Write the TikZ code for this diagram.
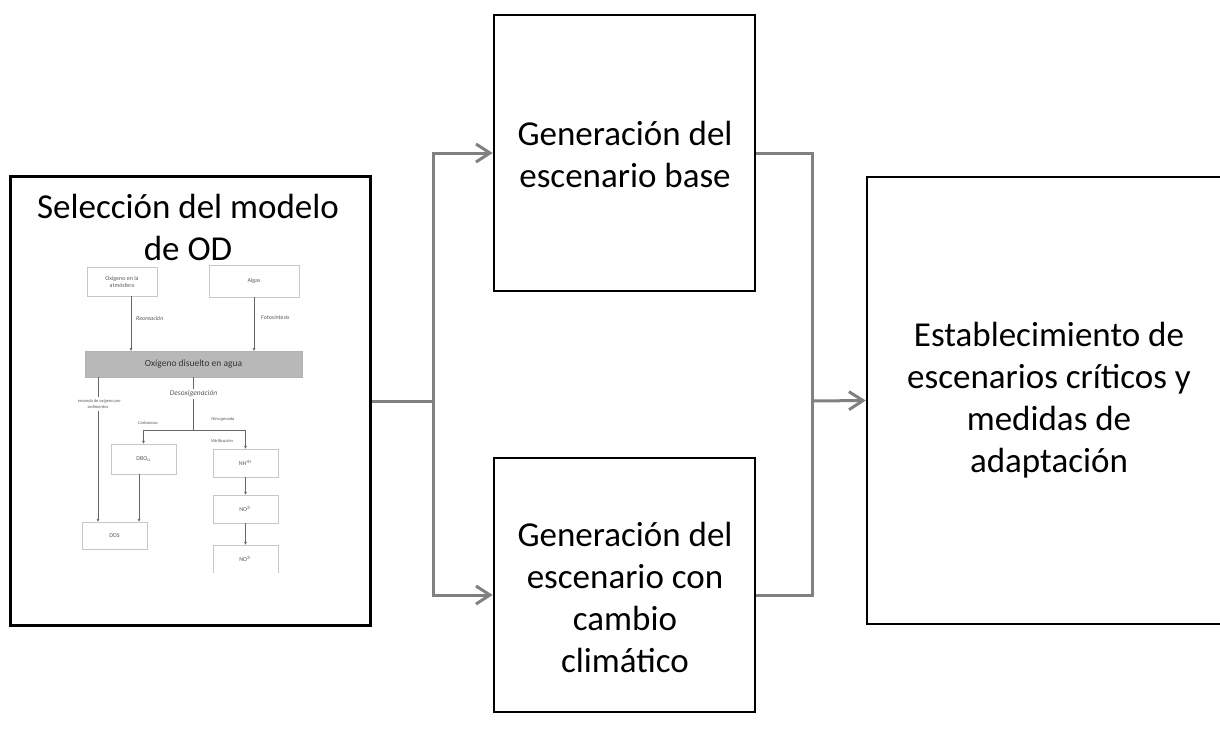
\documentclass[tikz,border=0pt]{standalone}
\usepackage{fontspec}
\setmainfont{Carlito}
\usetikzlibrary{arrows.meta}
\begin{document}
\begin{tikzpicture}
  [x=1pt,y=-1pt,every node/.style={inner sep=0pt}]
  \tikzstyle{bigbox} = [draw=black,line width=2.5pt]
  \tikzstyle{bigtext} = [align=center,font=\fontsize{35}{42}\selectfont]
  \tikzstyle{conn} = [draw=black!50,line width=3pt]
  \tikzstyle{tip} = [-{Straight Barb[length=14pt,width=18pt]}]
  \tikzstyle{smallbox} = [draw=black!22,line width=0.8pt,align=center,text=black!65,font=\fontsize{6}{7}\selectfont]
  \tikzstyle{tag} = [align=center,inner sep=2pt,text=black!65,font=\fontsize{4.5}{5.5}\selectfont\itshape]
  \tikzstyle{inline} = [draw=black!60,line width=0.8pt]
  \tikzstyle{inarr} = [inline,-{Stealth[length=3pt,width=3pt]}]
  \useasboundingbox (0,0) rectangle (1220,728);

  \node[bigbox,minimum width=360pt,minimum height=449pt] (sel) at (190.5,401) {};
  \node[bigbox,minimum width=261pt,minimum height=276pt] (base) at (624.5,153) {};
  \node[bigbox,minimum width=261pt,minimum height=254pt] (cc) at (624.5,585) {};
  \node[bigbox,minimum width=365pt,minimum height=447pt] (est) at (1049.5,400.5) {};

  \node[bigtext] (selt) at (188,227) {Selección del modelo\\de OD};
  \node[bigtext] (baset) at (625,154) {Generación del\\escenario base};
  \node[bigtext] (cct) at (625,597) {Generación del\\escenario con\\cambio\\climático};
  \node[bigtext] (estt) at (1049,400) {Establecimiento de\\escenarios críticos y\\medidas de\\adaptación};

  \coordinate (split) at (433,401);
  \coordinate (merge) at (812,401);
  \draw[conn] (sel.east) -- (split);
  \draw[conn,tip] (split) |- (base.west);
  \draw[conn,tip] (split) |- ([yshift=-10pt]cc.west);
  \draw[conn] (base.east) -| (merge);
  \draw[conn] ([yshift=-10pt]cc.east) -| (merge);
  \draw[conn,tip] (merge) -- (est.west);

  % modelo de OD
  \begin{scope}
    \clip (78,262) rectangle (306,572);
    \node[smallbox,minimum width=70pt,minimum height=29pt] (atm) at (122,281.5) {Oxígeno en la\\atmósfera};
    \node[smallbox,minimum width=90pt,minimum height=32pt] (algas) at (254,281) {Algas};
    \node[draw=black!30,fill=black!28,minimum width=217pt,minimum height=26pt,text=black!80,font=\fontsize{9.5}{11}\selectfont] (od) at (193.5,364) {Oxígeno disuelto en agua};
    \node[smallbox,minimum width=65pt,minimum height=30pt] (dbo) at (143.5,459) {DBO\textsubscript{u}};
    \node[smallbox,minimum width=65pt,minimum height=27pt] (dos) at (114.5,535.5) {DOS};
    \node[smallbox,minimum width=65pt,minimum height=28pt] (nh) at (245.5,463) {NH\textsuperscript{4+}};
    \node[smallbox,minimum width=65pt,minimum height=28pt] (notwo) at (245.5,509) {NO\textsuperscript{2-}};
    \node[smallbox,minimum width=65pt,minimum height=28pt] (nothree) at (245.5,559) {NO\textsuperscript{3-}};

    \node[tag,anchor=west,font=\fontsize{6}{7}\selectfont\itshape] (reair) at (134,318) {Reoreación};
    \node[tag,anchor=west,font=\fontsize{6}{7}\selectfont\itshape] (foto) at (259,317) {Fotosíntesis};
    \node[tag] (sed) at (98,404) {Demanda de oxígeno por\\sedimentos};
    \node[tag,font=\fontsize{7.5}{9}\selectfont\itshape] (desox) at (193.5,394) {Desoxigenación};
    \node[tag] (carb) at (148,423) {Carbonosa};
    \node[tag] (nitro) at (223,419) {Nitrogenada};
    \node[tag] (nitri) at (222,441) {Nitrificación};
    \coordinate (branch) at (193.5,430);

    \draw[inarr] ([xshift=9pt]atm.south) -- ([xshift=9pt]atm.south |- od.north);
    \draw[inarr] (algas.south) -- (algas.south |- od.north);
    \draw[inline] (od.south -| sed.north) -- (sed.north);
    \draw[inarr] (sed.south) -- (sed.south |- dos.north);
    \draw[inline] (od.south) -- (desox.north);
    \draw[inline] (desox.south) -- (branch);
    \draw[inarr] (branch) -| (dbo.north);
    \draw[inarr] (branch) -| (nh.north);
    \draw[inarr] ([xshift=-4.5pt]dbo.south) -- ([xshift=-4.5pt]dbo.south |- dos.north);
    \foreach \from/\to in {nh/notwo,notwo/nothree}
      \draw[inarr] (\from) -- (\to);
  \end{scope}

\end{tikzpicture}
\end{document}
